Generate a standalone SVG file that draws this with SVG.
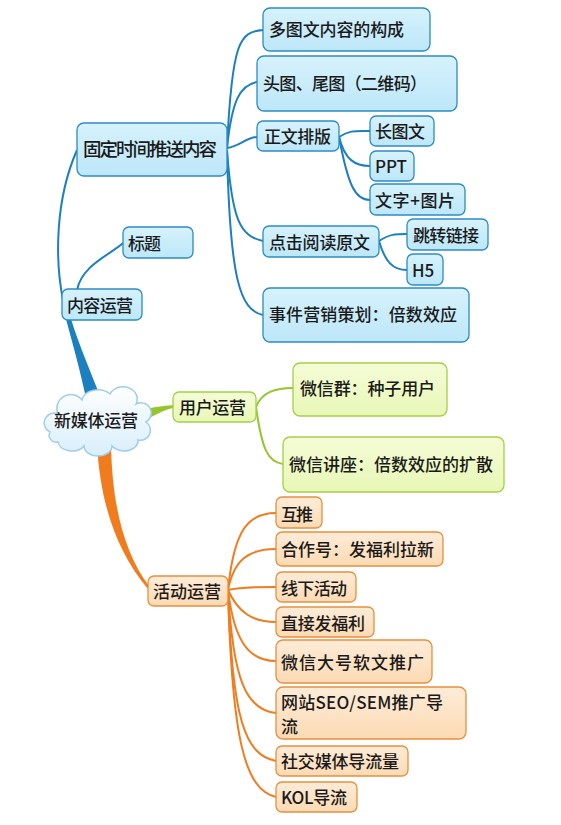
<svg xmlns="http://www.w3.org/2000/svg" width="561" height="825" viewBox="0 0 561 825">
<defs>
<linearGradient id="gb" x1="0" y1="0" x2="0" y2="1"><stop offset="0" stop-color="#d6f2fd"/><stop offset="1" stop-color="#bde7f8"/></linearGradient>
<linearGradient id="gg" x1="0" y1="0" x2="0" y2="1"><stop offset="0" stop-color="#f5fcd6"/><stop offset="1" stop-color="#e8f7b6"/></linearGradient>
<linearGradient id="go" x1="0" y1="0" x2="0" y2="1"><stop offset="0" stop-color="#feecd8"/><stop offset="1" stop-color="#fcdab4"/></linearGradient>
<linearGradient id="gc" x1="0" y1="0" x2="0" y2="1"><stop offset="0" stop-color="#ffffff"/><stop offset="1" stop-color="#d8eefb"/></linearGradient>
</defs>
<style>
text{font-family:"Noto Sans CJK SC","Noto Sans",sans-serif;font-size:17px;fill:#1a1a1a;dominant-baseline:central;font-weight:500}
.b rect{fill:url(#gb);stroke:#2c8cc6;stroke-width:1.3}
.g rect{fill:url(#gg);stroke:#a4cf48;stroke-width:1.3}
.o rect{fill:url(#go);stroke:#e6903e;stroke-width:1.3}
.cb{fill:none;stroke:#1b7fc0;stroke-width:2}
.cg{fill:none;stroke:#96c62c;stroke-width:2}
.co{fill:none;stroke:#f07c1e;stroke-width:2}
</style>
<rect width="561" height="825" fill="#ffffff"/>
<g id="connectors">
<path d="M86 398 C80 370 73 345 66 319 L71 319 C79 345 90 370 100 396 Z" fill="#1b7fc0"/>
<path d="M142 410 C155 407 162 406 173 405 L173 408 C162 410 155 416 142 421 Z" fill="#96c62c"/>
<path d="M97 444 C100 500 115 550 148 589 L149 586 C122 550 112 500 111 444 Z" fill="#f07c1e"/>
<path class="cb" d="M63 300 C55 260 55 200 77 150"/>
<path class="cb" d="M77 290 C82 265 110 255 123 243"/>
<path class="cb" d="M227 148 C232 40 240 32 263 30"/>
<path class="cb" d="M227 148 C232 100 240 85 257 82"/>
<path class="cb" d="M227 148 C240 146 245 138 257 137"/>
<path class="cb" d="M227 150 C232 220 240 236 263 241"/>
<path class="cb" d="M227 150 C230 280 240 310 263 315"/>
<path class="cb" d="M339 137 C350 130 355 131 370 131"/>
<path class="cb" d="M339 137 C345 160 355 166 370 166"/>
<path class="cb" d="M339 137 C348 185 355 200 370 200"/>
<path class="cb" d="M379 241 C390 234 395 234 407 234"/>
<path class="cb" d="M379 241 C385 262 393 270 407 270"/>
<path class="cg" d="M256 407 C262 392 275 388 293 388"/>
<path class="cg" d="M256 407 C262 450 268 462 283 464"/>
<path class="co" d="M228 590 C234 530 248 513 276 513"/>
<path class="co" d="M228 590 C234 560 248 549 276 549"/>
<path class="co" d="M228 590 C240 587 255 587 276 587"/>
<path class="co" d="M228 590 C238 612 252 622 276 622"/>
<path class="co" d="M228 590 C234 640 248 661 276 661"/>
<path class="co" d="M228 590 C233 680 246 710 276 713"/>
<path class="co" d="M228 590 C232 720 245 755 276 761"/>
<path class="co" d="M228 590 C232 740 245 790 276 797"/>
</g>
<g id="root">
<path d="M50 432 a9 9 0 0 1 8 -18 a14 14 0 0 1 24 -14 a16 12 0 0 1 28 -6 a14 12 0 0 1 26 10 a10 10 0 0 1 10 18 a10 10 0 0 1 -8 18 a14 10 0 0 1 -26 6 a14 10 0 0 1 -28 0 a14 10 0 0 1 -26 -4 a7 7 0 0 1 -8 -10 Z" fill="url(#gc)" stroke="#9fcdea" stroke-width="1.5"/>
<text x="54" y="419" textLength="84">新媒体运营</text>
</g>
<g id="n-nryy" class="b"><rect x="62" y="289" width="80" height="31" rx="6"/><text x="67" y="304" textLength="66">内容运营</text></g>
<g id="n-bt" class="b"><rect x="123" y="227" width="70" height="31" rx="6"/><text x="128" y="242" textLength="33">标题</text></g>
<g id="n-gdsj" class="b"><rect x="77" y="123" width="150" height="53" rx="7"/><text x="83" y="148" style="font-size:18.5px" textLength="134">固定时间推送内容</text></g>
<g id="n-dtw" class="b"><rect x="263" y="8" width="167" height="43" rx="7"/><text x="269" y="28" textLength="135">多图文内容的构成</text></g>
<g id="n-tt" class="b"><rect x="257" y="56" width="200" height="55" rx="7"/><text x="263" y="82" textLength="164">头图、尾图（二维码）</text></g>
<g id="n-zwpb" class="b"><rect x="257" y="121" width="82" height="30" rx="6"/><text x="264" y="135" textLength="67">正文排版</text></g>
<g id="n-ctw" class="b"><rect x="370" y="116" width="64" height="30" rx="6"/><text x="375" y="130" textLength="50">长图文</text></g>
<g id="n-ppt" class="b"><rect x="370" y="151" width="44" height="30" rx="6"/><text x="375" y="165">PPT</text></g>
<g id="n-wztp" class="b"><rect x="370" y="184" width="95" height="31" rx="6"/><text x="375" y="199" textLength="80">文字+图片</text></g>
<g id="n-djyd" class="b"><rect x="263" y="226" width="116" height="31" rx="6"/><text x="269" y="241" textLength="101">点击阅读原文</text></g>
<g id="n-tzlj" class="b"><rect x="407" y="219" width="81" height="31" rx="6"/><text x="413" y="234" textLength="66">跳转链接</text></g>
<g id="n-h5" class="b"><rect x="407" y="254" width="36" height="31" rx="6"/><text x="412" y="269">H5</text></g>
<g id="n-sjyx" class="b"><rect x="263" y="288" width="206" height="54" rx="7"/><text x="269" y="313" textLength="188">事件营销策划：倍数效应</text></g>
<g id="n-yhyy" class="g"><rect x="173" y="392" width="83" height="30" rx="6"/><text x="179" y="406" textLength="67">用户运营</text></g>
<g id="n-wxq" class="g"><rect x="293" y="363" width="154" height="53" rx="7"/><text x="300" y="387" textLength="135">微信群：种子用户</text></g>
<g id="n-wxjz" class="g"><rect x="283" y="437" width="221" height="55" rx="7"/><text x="289" y="463" textLength="204">微信讲座：倍数效应的扩散</text></g>
<g id="n-hdyy" class="o"><rect x="148" y="576" width="80" height="30" rx="6"/><text x="153" y="590" textLength="68">活动运营</text></g>
<g id="n-ht" class="o"><rect x="276" y="497" width="46" height="31" rx="6"/><text x="281" y="513" textLength="32">互推</text></g>
<g id="n-hzh" class="o"><rect x="276" y="532" width="167" height="34" rx="6"/><text x="281" y="548" textLength="153">合作号：发福利拉新</text></g>
<g id="n-xxhd" class="o"><rect x="276" y="572" width="80" height="30" rx="6"/><text x="281" y="587" textLength="66">线下活动</text></g>
<g id="n-zjffl" class="o"><rect x="276" y="607" width="98" height="30" rx="6"/><text x="281" y="622" textLength="84">直接发福利</text></g>
<g id="n-wxdh" class="o"><rect x="276" y="640" width="156" height="43" rx="7"/><text x="281" y="661" textLength="143">微信大号软文推广</text></g>
<g id="n-wz" class="o"><rect x="276" y="687" width="190" height="52" rx="7"/><text x="281" y="701" textLength="162">网站SEO/SEM推广导</text><text x="281" y="725">流</text></g>
<g id="n-sjmt" class="o"><rect x="276" y="746" width="132" height="30" rx="6"/><text x="281" y="760" textLength="118">社交媒体导流量</text></g>
<g id="n-kol" class="o"><rect x="276" y="782" width="81" height="30" rx="6"/><text x="281" y="796" textLength="66">KOL导流</text></g>
</svg>
